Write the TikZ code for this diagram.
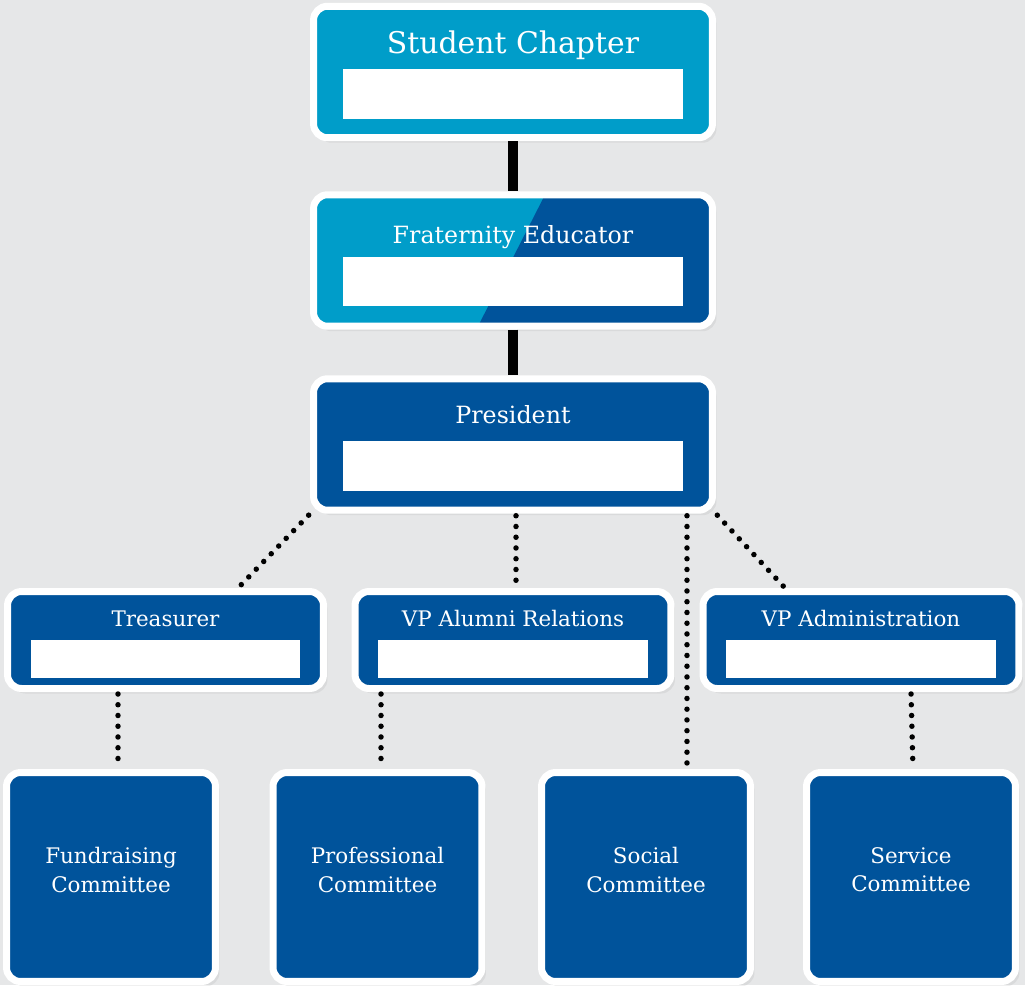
\documentclass[tikz,border=0pt]{standalone}
\usepackage{fontspec}
\setmainfont{DejaVu Serif}
\usetikzlibrary{positioning,shadows}

\definecolor{chapterblue}{HTML}{009DC9}
\definecolor{officerblue}{HTML}{00539B}
\definecolor{pagegray}{HTML}{E6E7E8}

\begin{document}
\begin{tikzpicture}[x=0.02cm, y=-0.02cm]
    \tikzset{
      box/.style={draw=white, line width=0.14cm, rounded corners=0.28cm, fill=officerblue,
        drop shadow={opacity=0.12, shadow xshift=0.08cm, shadow yshift=-0.1cm}},
      bigbox/.style={box, minimum width=7.98cm, minimum height=2.63cm},
      midbox/.style={box, minimum width=6.32cm, minimum height=1.94cm},
      combox/.style={box, minimum width=4.18cm, minimum height=4.18cm},
      namefield/.style={fill=white, inner sep=0pt},
      title/.style={text=white, anchor=base, inner sep=0pt, font=\fontsize{13.5}{16}\selectfont},
      smalltitle/.style={title, font=\fontsize{12.2}{14.5}\selectfont},
      comtext/.style={text=white, align=center, font=\fontsize{12.2}{16}\selectfont},
      solidlink/.style={line width=0.2cm},
      dotlink/.style={line width=0.11cm, line cap=round, dash pattern=on 0pt off 0.215cm,
        shorten <=0.04cm, shorten >=0.02cm},
    }
    \useasboundingbox (0,0) rectangle (1025,985);
    \fill[pagegray] (0,0) rectangle (1025,985);

    % top of the chart
    \node [bigbox, fill=chapterblue] (chapter) at (513,72) {};
    \node [bigbox, fill=chapterblue, path picture={
        \fill[officerblue, sharp corners] ([xshift=4.63cm]path picture bounding box.north west)
          -- ([xshift=0.3cm]path picture bounding box.north east)
          -- ([xshift=0.3cm]path picture bounding box.south east)
          -- ([xshift=3.29cm]path picture bounding box.south west) -- cycle;}]
      (educator) at (513,260.5) {};
    \node [bigbox] (president) at (513,444.5) {};

    \node [title, font=\fontsize{17}{20}\selectfont] at ([yshift=-1.02cm]chapter.north) {Student Chapter};
    \node [title] at ([yshift=-1.04cm]educator.north) {Fraternity Educator};
    \node [title] at ([yshift=-0.96cm]president.north) {President};

    \node [namefield, minimum width=6.82cm, minimum height=1cm] (chapterfield) at ([yshift=-0.44cm]chapter.center) {};
    \node [namefield, minimum width=6.82cm, minimum height=0.98cm] (educatorfield) at ([yshift=-0.42cm]educator.center) {};
    \node [namefield, minimum width=6.82cm, minimum height=1cm] (presidentfield) at ([yshift=-0.43cm]president.center) {};

    \draw [solidlink] (chapter) -- (educator);
    \draw [solidlink] (educator) -- (president);

    % officers
    \node [midbox] (treasurer) at (165.5,640) {};
    \node [midbox] (alumni) at (513,640) {};
    \node [midbox] (admin) at (861,640) {};

    \node [smalltitle] at ([yshift=-0.76cm]treasurer.north) {Treasurer};
    \node [smalltitle] at ([yshift=-0.76cm]alumni.north) {VP Alumni Relations};
    \node [smalltitle] at ([yshift=-0.76cm]admin.north) {VP Administration};

    \node [namefield, minimum width=5.4cm, minimum height=0.76cm] (treasurerfield) at ([yshift=-0.38cm]treasurer.center) {};
    \node [namefield, minimum width=5.4cm, minimum height=0.76cm] (alumnifield) at ([yshift=-0.38cm]alumni.center) {};
    \node [namefield, minimum width=5.4cm, minimum height=0.76cm] (adminfield) at ([yshift=-0.38cm]admin.center) {};

    % committees
    \node [combox] (fundraising) at (111,877) {};
    \node [combox] (professional) at (377.5,877) {};
    \node [combox] (social) at (646,877) {};
    \node [combox] (service) at (911,877) {};

    \node [comtext] at ([yshift=0.14cm]fundraising.center) {Fundraising\\Committee};
    \node [comtext] at ([yshift=0.14cm]professional.center) {Professional\\Committee};
    \node [comtext] at ([yshift=0.14cm]social.center) {Social\\Committee};
    \node [comtext] at ([yshift=0.14cm]service.center) {Service\\Committee};

    \coordinate (socialtop) at ([xshift=0.82cm]social.north);
    \coordinate (fundtop) at ([xshift=0.14cm]fundraising.north);
    \coordinate (proftop) at ([xshift=0.07cm]professional.north);

    \draw [dotlink] (president.south west) -- ([xshift=1.45cm]treasurer.north);
    \draw [dotlink] ([xshift=0.06cm]president.south) -- ([xshift=0.06cm]alumni.north);
    \draw [dotlink] (president.south -| socialtop) -- (socialtop);
    \draw [dotlink] (president.south east) -- ([xshift=-1.52cm]admin.north);
    \draw [dotlink] (treasurer.south -| fundtop) -- (fundtop);
    \draw [dotlink] (alumni.south -| proftop) -- (proftop);
    \draw [dotlink] (admin.south -| service.north) -- ([xshift=0.04cm]service.north);

  \end{tikzpicture}
\end{document}
